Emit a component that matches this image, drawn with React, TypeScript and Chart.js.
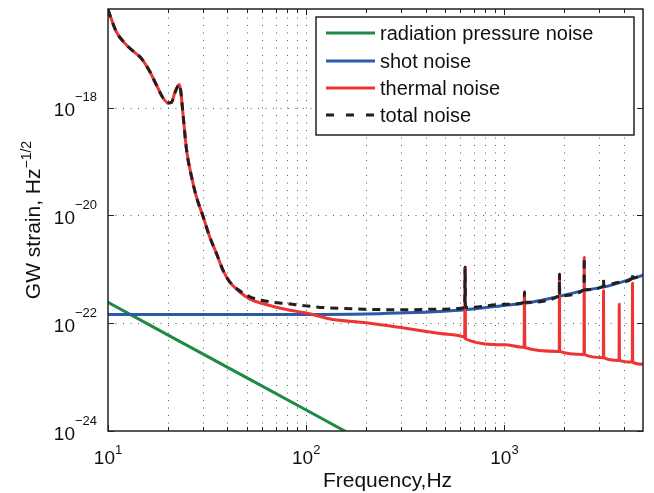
import { useEffect, useRef } from 'react';
import { Chart, registerables } from 'chart.js';

Chart.register(...registerables);

const FONT = '"Liberation Sans", Arial, Helvetica, sans-serif';

// Series: [frequency Hz, strain Hz^-1/2]
const radiationPressure: [number, number][] = [
  [10, 2.45e-22], [20, 6.1e-23], [50, 9.8e-24], [100, 2.45e-24], [200, 6.1e-25],
];

const shotNoise: [number, number][] = [
  [10, 1.45e-22], [100, 1.45e-22], [200, 1.48e-22], [300, 1.55e-22], [473, 1.66e-22],
  [631, 1.78e-22], [1000, 2.14e-22], [1262, 2.34e-22], [1895, 3.16e-22], [2526, 4.07e-22],
  [3162, 4.68e-22], [3794, 5.6e-22], [4426, 6.76e-22], [5000, 7.76e-22],
];

const thermalNoise: [number, number][] = [
  [10, 6.6e-17], [11, 2.6e-17], [12.1, 1.6e-17], [13.4, 1.12e-17], [14.7, 8.3e-18],
  [16.2, 4.8e-18], [17.5, 2.7e-18], [19, 1.5e-18], [20.1, 1.23e-18], [20.9, 1.26e-18],
  [21.7, 1.86e-18], [22.9, 2.7e-18], [23.3, 2.0e-18], [23.9, 7.6e-19], [24.9, 1.66e-19],
  [26.4, 5.2e-20], [27.9, 2.24e-20], [30.2, 9.5e-21], [32.6, 4.0e-21], [35.3, 1.95e-21],
  [38.1, 9.5e-22], [41.2, 5.8e-22], [46.2, 3.8e-22], [52, 2.8e-22], [60.7, 2.3e-22],
  [82.8, 1.74e-22], [100, 1.55e-22], [132, 1.2e-22], [200, 1.02e-22], [300, 8.3e-23],
  [473, 6.45e-23], [620, 5.6e-23], [630, 5.4e-23], [633, 1.1e-21], [636, 5.1e-23],
  [1000, 4.0e-23], [1257, 3.55e-23], [1262, 3.8e-22], [1267, 3.55e-23],
  [1890, 3.0e-23], [1895, 8.1e-22], [1900, 3.0e-23],
  [2520, 2.63e-23], [2526, 1.66e-21], [2532, 2.63e-23],
  [3155, 2.3e-23], [3162, 4.0e-22], [3169, 2.3e-23],
  [3786, 2.04e-23], [3794, 2.24e-22], [3802, 2.04e-23],
  [4416, 1.9e-23], [4426, 5.5e-22], [4436, 1.9e-23], [5000, 1.74e-23],
];

const totalNoise: [number, number][] = [
  [10, 6.6e-17], [11, 2.6e-17], [12.1, 1.6e-17], [13.4, 1.12e-17], [14.7, 8.3e-18],
  [16.2, 4.8e-18], [17.5, 2.7e-18], [19, 1.5e-18], [20.1, 1.23e-18], [20.9, 1.26e-18],
  [21.7, 1.86e-18], [22.9, 2.7e-18], [23.3, 2.0e-18], [23.9, 7.6e-19], [24.9, 1.66e-19],
  [26.4, 5.2e-20], [27.9, 2.24e-20], [30.2, 9.5e-21], [32.6, 4.0e-21], [35.3, 1.95e-21],
  [38.1, 9.5e-22], [41.2, 5.8e-22], [46.2, 4.0e-22], [52, 3.1e-22], [65.6, 2.5e-22],
  [81, 2.3e-22], [100, 2.1e-22], [124, 1.95e-22], [200, 1.82e-22], [309, 1.78e-22],
  [473, 1.82e-22], [630, 1.95e-22], [633, 1.1e-21], [636, 1.95e-22], [1000, 2.24e-22],
  [1257, 2.45e-22], [1262, 3.8e-22], [1267, 2.45e-22],
  [1890, 3.24e-22], [1895, 8.1e-22], [1900, 3.24e-22],
  [2520, 4.2e-22], [2526, 1.66e-21], [2532, 4.2e-22],
  [3155, 4.9e-22], [3162, 6.5e-22], [3169, 4.9e-22],
  [3794, 5.75e-22], [4416, 6.9e-22], [4426, 8.3e-22], [4436, 6.9e-22], [5000, 7.9e-22],
];

const seriesNames = ['radiation pressure noise', 'shot noise', 'thermal noise', 'total noise'];
const seriesColors = ['#1f8a45', '#2a5aa8', '#ef3434', '#231f20'];

// Axis ticks
const xMajor = [10, 100, 1000];
const xExp = ['1', '2', '3'];
const xMinor = [20, 30, 40, 50, 60, 70, 80, 90, 200, 300, 400, 500, 600, 700, 800, 900, 2000, 3000, 4000];
const yMajor = [1e-24, 1e-22, 1e-20, 1e-18];
const yExp = ['\u221224', '\u221222', '\u221220', '\u221218'];

const toXY = (arr: [number, number][]) => arr.map(([x, y]) => ({ x, y }));

const decor = {
  id: 'decor',
  beforeDatasetsDraw(chart: any) {
    const { ctx, chartArea: a, scales } = chart;
    const xs = scales.x, ys = scales.y;
    ctx.save();
    ctx.strokeStyle = 'rgba(40,40,40,0.75)';
    ctx.lineWidth = 1;
    ctx.setLineDash([1, 6.5]);
    [...xMinor, ...xMajor.slice(1)].forEach((v) => {
      const px = Math.round(xs.getPixelForValue(v)) + 0.5;
      ctx.beginPath(); ctx.moveTo(px, a.bottom); ctx.lineTo(px, a.top); ctx.stroke();
    });
    yMajor.slice(1).forEach((v) => {
      const py = Math.round(ys.getPixelForValue(v)) + 0.5;
      ctx.beginPath(); ctx.moveTo(a.left, py); ctx.lineTo(a.right, py); ctx.stroke();
    });
    ctx.restore();
  },
  afterDatasetsDraw(chart: any) {
    const { ctx, chartArea: a, scales } = chart;
    const xs = scales.x, ys = scales.y;
    ctx.save();
    // frame
    ctx.setLineDash([]);
    ctx.strokeStyle = '#222';
    ctx.lineWidth = 1.5;
    ctx.strokeRect(a.left, a.top, a.right - a.left, a.bottom - a.top);
    // tick marks (inward)
    ctx.lineWidth = 1;
    [...xMinor, ...xMajor].forEach((v) => {
      const px = Math.round(xs.getPixelForValue(v)) + 0.5;
      const len = xMajor.includes(v) ? 6 : 4;
      ctx.beginPath();
      ctx.moveTo(px, a.bottom); ctx.lineTo(px, a.bottom - len);
      ctx.moveTo(px, a.top); ctx.lineTo(px, a.top + len);
      ctx.stroke();
    });
    yMajor.forEach((v) => {
      const py = Math.round(ys.getPixelForValue(v)) + 0.5;
      ctx.beginPath();
      ctx.moveTo(a.left, py); ctx.lineTo(a.left + 6, py);
      ctx.moveTo(a.right, py); ctx.lineTo(a.right - 6, py);
      ctx.stroke();
    });
    // tick labels
    ctx.fillStyle = '#111';
    ctx.textBaseline = 'alphabetic';
    ctx.textAlign = 'left';
    const mainF = `19px ${FONT}`;
    const supF = `13px ${FONT}`;
    xMajor.forEach((v, i) => {
      const px = xs.getPixelForValue(v);
      ctx.font = mainF; const w1 = ctx.measureText('10').width;
      ctx.font = supF; const w2 = ctx.measureText(xExp[i]).width;
      const s = px - (w1 + w2) / 2;
      ctx.font = mainF; ctx.fillText('10', s, 464);
      ctx.font = supF; ctx.fillText(xExp[i], s + w1, 454);
    });
    yMajor.forEach((v, i) => {
      const py = ys.getPixelForValue(v);
      ctx.font = mainF; const w1 = ctx.measureText('10').width;
      ctx.font = supF; const w2 = ctx.measureText(yExp[i]).width;
      const s = 97 - (w1 + w2);
      ctx.font = mainF; ctx.fillText('10', s, py + 8.5);
      ctx.font = supF; ctx.fillText(yExp[i], s + w1, py - 6.5);
    });
    // axis titles
    ctx.font = `21px ${FONT}`;
    ctx.textAlign = 'center';
    ctx.fillText('Frequency,Hz', 387.5, 487);
    ctx.save();
    ctx.translate(39.5, 220);
    ctx.rotate(-Math.PI / 2);
    ctx.textAlign = 'left';
    ctx.font = `21px ${FONT}`;
    const t1 = 'GW strain, Hz';
    const tw1 = ctx.measureText(t1).width;
    ctx.font = `14px ${FONT}`;
    const t2 = '\u22121/2';
    const tw2 = ctx.measureText(t2).width;
    const st = -(tw1 + tw2) / 2;
    ctx.font = `21px ${FONT}`;
    ctx.fillText(t1, st, 0);
    ctx.font = `14px ${FONT}`;
    ctx.fillText(t2, st + tw1, -9);
    ctx.restore();
    // legend
    const bx = 316, by = 17, bw = 318, bh = 118;
    ctx.fillStyle = '#fff';
    ctx.fillRect(bx, by, bw, bh);
    ctx.strokeStyle = '#222';
    ctx.lineWidth = 1.5;
    ctx.strokeRect(bx, by, bw, bh);
    const rows = [33, 61, 88, 115];
    ctx.font = `20px ${FONT}`;
    ctx.textAlign = 'left';
    ctx.textBaseline = 'middle';
    seriesNames.forEach((n, i) => {
      const y = rows[i];
      ctx.strokeStyle = seriesColors[i];
      ctx.lineWidth = 3;
      ctx.setLineDash(i === 3 ? [8, 12] : []);
      ctx.beginPath(); ctx.moveTo(326, y); ctx.lineTo(375, y); ctx.stroke();
      ctx.setLineDash([]);
      ctx.fillStyle = '#111';
      ctx.fillText(n, 380, y + 1);
    });
    ctx.restore();
  },
};

export default function App() {
  const ref = useRef<HTMLCanvasElement>(null);
  useEffect(() => {
    const base = { pointRadius: 0, borderWidth: 3, fill: false, borderJoinStyle: 'round' as const };
    const chart = new Chart(ref.current!, {
      type: 'line',
      data: {
        datasets: [
          { ...base, label: seriesNames[3], data: toXY(totalNoise), borderColor: seriesColors[3], borderDash: [8, 6], cubicInterpolationMode: 'monotone', order: 0 },
          { ...base, label: seriesNames[2], data: toXY(thermalNoise), borderColor: seriesColors[2], cubicInterpolationMode: 'monotone', order: 1 },
          { ...base, label: seriesNames[1], data: toXY(shotNoise), borderColor: seriesColors[1], cubicInterpolationMode: 'monotone', order: 2 },
          { ...base, label: seriesNames[0], data: toXY(radiationPressure), borderColor: seriesColors[0], order: 3 },
        ],
      },
      options: {
        responsive: false,
        animation: false,
        devicePixelRatio: 1,
        layout: { padding: { left: 108, top: 9, right: 11, bottom: 62 } },
        scales: {
          x: { type: 'logarithmic', min: 10, max: 5000, display: false },
          y: { type: 'logarithmic', min: 1e-24, max: 6.8e-17, display: false },
        },
        plugins: { legend: { display: false }, tooltip: { enabled: false } },
      },
      plugins: [decor],
    });
    return () => chart.destroy();
  }, []);
  return (
    <div style={{ position: 'absolute', left: 0, top: 0, width: 654, height: 493, background: '#fff' }}>
      <canvas ref={ref} width={654} height={493} style={{ display: 'block' }} />
    </div>
  );
}
